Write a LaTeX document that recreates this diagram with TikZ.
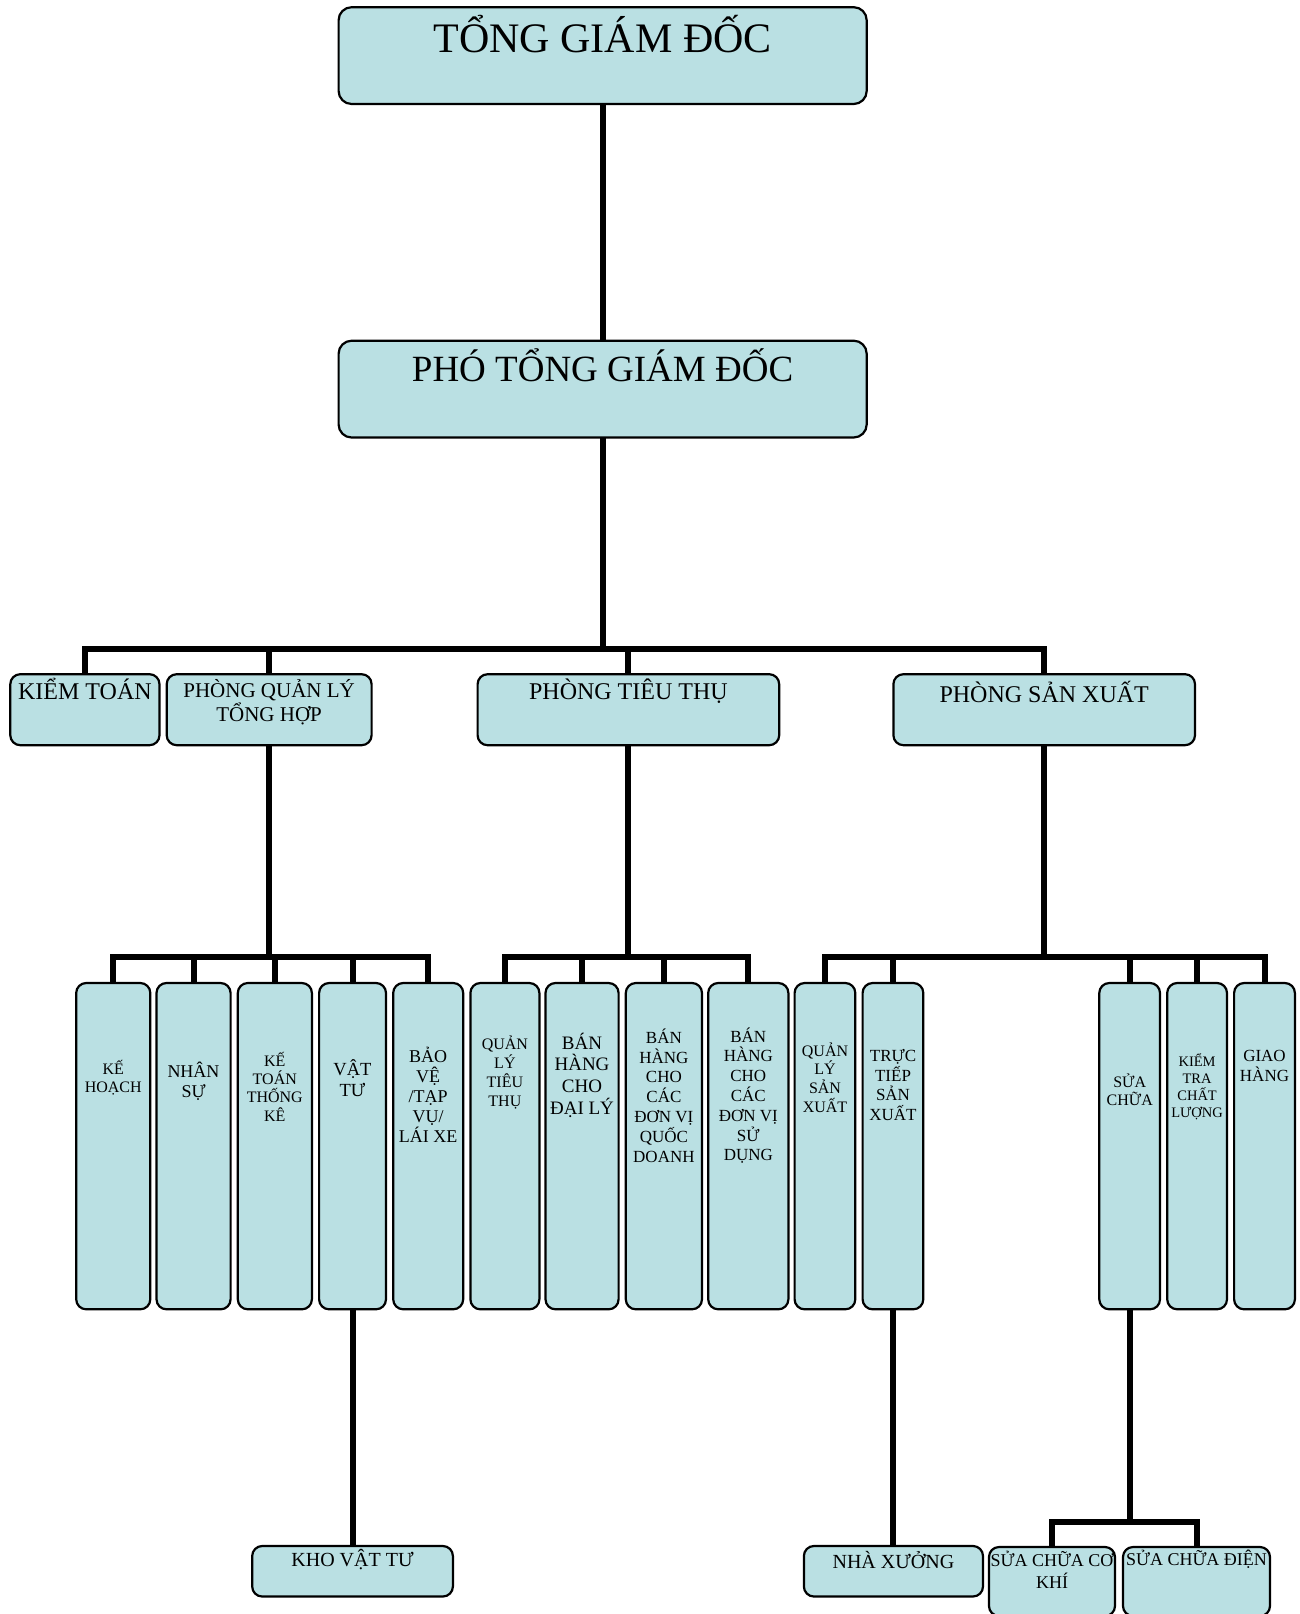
\documentclass[tikz,border=0pt]{standalone}
\usepackage{fontspec}
\setmainfont{Liberation Serif}
\usetikzlibrary{fit}
\definecolor{boxfill}{RGB}{186,224,227}
\tikzset{
  orgbox/.style={draw=black, line width=2.2pt, fill=boxfill, rounded corners=10pt, inner sep=0pt, outer sep=0pt},
  bigbox/.style={orgbox, rounded corners=13pt},
  conn/.style={line width=6pt, line join=miter, draw=black},
  lbl/.style={align=center, inner sep=0pt, text=black},
}
\newcommand\fs[2]{\fontsize{#1}{#2}\selectfont}
% \obox[style]{name}{x1}{y1}{x2}{y2}
\newcommand\obox[6][orgbox]{\node[#1, fit={(#3,#4) (#5,#6)}] (#2) {};}
\begin{document}
\begin{tikzpicture}[x=1pt, y=-1pt]
\useasboundingbox (0,0) rectangle (1299,1614);
\fill[white] (0,0) rectangle (1299,1614);

% connectors (drawn first so the boxes sit on top of the line ends)
\coordinate (b0) at (0,648.5);
\coordinate (b1) at (0,957.2);
\coordinate (b2) at (0,1522);

% top management
\obox[bigbox]{tgd}{338.6}{7.2}{866.7}{104}
\obox[bigbox]{ptgd}{338.6}{340.7}{866.7}{437.5}
\node[lbl, font=\fs{42}{48}] (tgd-t) at (602.6,34) {TỔNG GIÁM ĐỐC};
\node[lbl, font=\fs{37}{42}] (ptgd-t) at (602.6,365.5) {PHÓ TỔNG GIÁM ĐỐC};

% departments
\obox{kt}{10.3}{674.2}{159.5}{745.2}
\obox{pq}{166.7}{674.2}{371.6}{745.2}
\obox{ptt}{477.6}{674.2}{779.2}{745.2}
\obox{psx}{893.4}{674.2}{1195}{745.2}
\node[lbl, font=\fs{24}{27}] (kt-t) at (84.9,688.5) {KIỂM TOÁN};
\node[lbl, font=\fs{21}{24.5}] (pq-t) at (269.1,702) {PHÒNG QUẢN LÝ\\TỔNG HỢP};
\node[lbl, font=\fs{24}{27}] (ptt-t) at (628.4,691.5) {PHÒNG TIÊU THỤ};
\node[lbl, font=\fs{24}{27}] (psx-t) at (1044.2,691.5) {PHÒNG SẢN XUẤT};

% sections
\obox{kh}{76.2}{983}{150.3}{1309.3}
\obox{ns}{156.5}{983}{230.6}{1309.3}
\obox{ktk}{237.8}{983}{311.9}{1309.3}
\obox{vt}{319.1}{983}{386}{1309.3}
\obox{bv}{393.2}{983}{463.2}{1309.3}
\obox{qltt}{470.4}{983}{539.4}{1309.3}
\obox{bhdl}{545.5}{983}{618.6}{1309.3}
\obox{bhqd}{625.8}{983}{702}{1309.3}
\obox{bhsd}{708.2}{983}{788.4}{1309.3}
\obox{qlsx}{794.6}{983}{855.3}{1309.3}
\obox{ttsx}{862.6}{983}{923.3}{1309.3}
\obox{sc}{1099.3}{983}{1160}{1309.3}
\obox{ktcl}{1167.2}{983}{1227}{1309.3}
\obox{gh}{1234.1}{983}{1294.9}{1309.3}

\node[lbl, font=\fs{16}{18.3}] (kh-t) at (113.2,1078) {KẾ\\HOẠCH};
\node[lbl, font=\fs{18}{20}] (ns-t) at (193.5,1081) {NHÂN\\SỰ};
\node[lbl, font=\fs{16}{18.3}] (ktk-t) at (274.8,1086.5) {KẾ\\TOÁN\\THỐNG\\KÊ};
\node[lbl, font=\fs{18.5}{21.7}] (vt-t) at (352.5,1078) {VẬT\\TƯ};
\node[lbl, font=\fs{18}{20}] (bv-t) at (428.2,1095) {BẢO\\VỆ\\/TẠP\\VỤ/\\LÁI XE};
\node[lbl, font=\fs{16}{19}] (qltt-t) at (504.9,1072) {QUẢN\\LÝ\\TIÊU\\THỤ};
\node[lbl, font=\fs{19}{21.7}] (bhdl-t) at (582,1075) {BÁN\\HÀNG\\CHO\\ĐẠI LÝ};
\node[lbl, font=\fs{17}{19.8}] (bhqd-t) at (663.9,1095.5) {BÁN\\HÀNG\\CHO\\CÁC\\ĐƠN VỊ\\QUỐC\\DOANH};
\node[lbl, font=\fs{17}{19.8}] (bhsd-t) at (748.3,1095.5) {BÁN\\HÀNG\\CHO\\CÁC\\ĐƠN VỊ\\SỬ\\DỤNG};
\node[lbl, font=\fs{16}{18.7}] (qlsx-t) at (825,1077.5) {QUẢN\\LÝ\\SẢN\\XUẤT};
\node[lbl, font=\fs{17}{19.4}] (ttsx-t) at (893,1085) {TRỰC\\TIẾP\\SẢN\\XUẤT};
\node[lbl, font=\fs{16}{18}] (sc-t) at (1129.7,1090) {SỬA\\CHỮA};
\node[lbl, font=\fs{14.5}{16.9}] (ktcl-t) at (1197.1,1087) {KIỂM\\TRA\\CHẤT\\LƯỢNG};
\node[lbl, font=\fs{17}{20}] (gh-t) at (1264.5,1065.7) {GIAO\\HÀNG};

% units
\obox{kho}{252.2}{1546}{452.9}{1596.5}
\obox{nx}{803.9}{1546}{983}{1596.5}
\obox{ck}{989}{1547}{1115}{1616}
\obox{dien}{1123}{1547}{1270}{1616}
\node[lbl, font=\fs{20}{23}] (kho-t) at (352.5,1560) {KHO VẬT TƯ};
\node[lbl, font=\fs{20}{23}] (nx-t) at (893.4,1560) {NHÀ XƯỞNG};
\node[lbl, font=\fs{18}{22}] (ck-t) at (1052,1570) {SỬA CHỮA CƠ\\KHÍ};
\node[lbl, font=\fs{18}{22}] (dien-t) at (1196.5,1559) {SỬA CHỮA ĐIỆN};

% connectors
\draw[conn] (tgd.south) -- (ptgd.north);
\foreach \c in {kt,pq,ptt,psx}
  \draw[conn] (ptgd.south) |- (\c.north |- b0) -- (\c.north);
\foreach \c in {kh,ns,ktk,vt,bv}
  \draw[conn] (pq.south) |- (\c.north |- b1) -- (\c.north);
\foreach \c in {qltt,bhdl,bhqd,bhsd}
  \draw[conn] (ptt.south) |- (\c.north |- b1) -- (\c.north);
\foreach \c in {qlsx,ttsx,sc,ktcl,gh}
  \draw[conn] (psx.south) |- (\c.north |- b1) -- (\c.north);
\draw[conn] (vt.south) -- (vt.south |- kho.north);
\draw[conn] (ttsx.south) -- (ttsx.south |- nx.north);
\foreach \c in {ck,dien}
  \draw[conn] (sc.south) |- (\c.north |- b2) -- (\c.north);
\end{tikzpicture}
\end{document}
